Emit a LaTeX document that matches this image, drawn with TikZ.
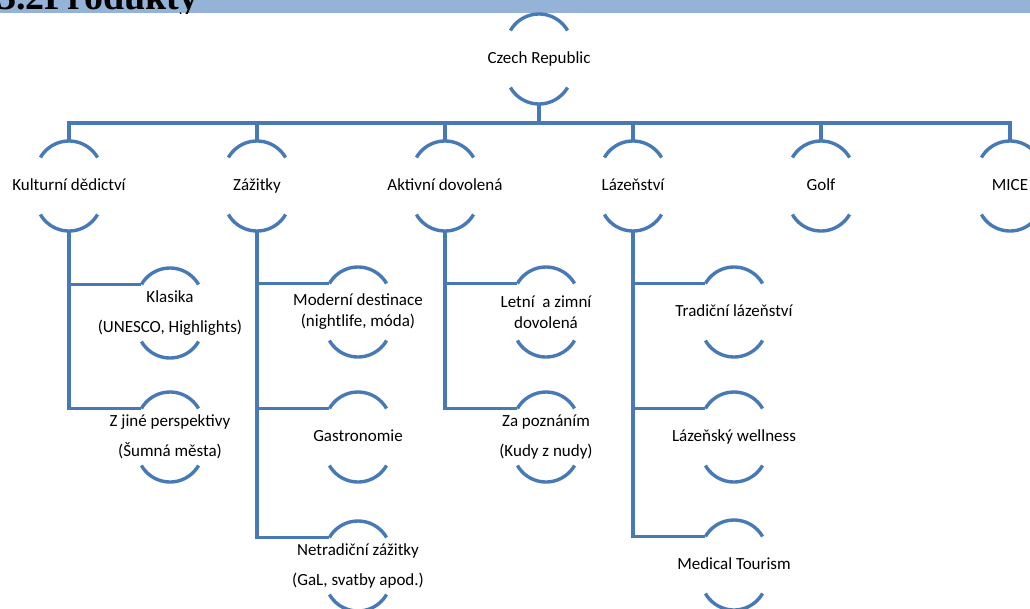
\documentclass[tikz,border=0pt]{standalone}
\usepackage{fontspec}
\setmainfont{Carlito}
\newfontfamily\headfont{Liberation Serif}
\definecolor{linkblue}{RGB}{70,121,182}
\definecolor{bandblue}{RGB}{149,179,215}

\begin{document}
\begin{tikzpicture}[x=1pt,y=1pt,
  box/.style={minimum width=57pt,minimum height=90pt,inner sep=0pt,align=center,
    font=\fontsize{17}{21}\selectfont},
  single/.style={text height=12pt,text depth=4pt},
  loose/.style={font=\fontsize{17}{30}\selectfont},
  arcline/.style={line width=3.4pt,draw=linkblue},
  link/.style={line width=3.4pt,draw=linkblue}]
  \useasboundingbox (0,0) rectangle (1030,-608);
  \clip (0,0) rectangle (1030,-608);

  % heading band
  \fill[bandblue] (0,0) rectangle (1030,-13);
  \begin{scope}
    \clip (0,0) rectangle (1030,-13);
    \node[anchor=base west,inner sep=0pt] (head) at (-3,-9.5)
      {\headfont\bfseries\fontsize{38}{40}\selectfont 3.2Produkty};
  \end{scope}

  % top
  \node[box,single] (cz) at (539,-59) {Czech Republic};
  \coordinate (bus) at (539,-123);

  % first level
  \node[box,single] (kult) at (69,-186) {Kulturní dědictví};
  \node[box,single] (zaz) at (257,-186) {Zážitky};
  \node[box,single] (akt) at (445,-186) {Aktivní dovolená};
  \node[box,single] (laz) at (633,-186) {Lázeňství};
  \node[box,single] (golf) at (821,-186) {Golf};
  \node[box,single] (mice) at (1010,-186) {MICE};

  % second level
  \node[box,loose] (klas) at (170,-313) {Klasika\\(UNESCO, Highlights)};
  \node[box,loose] (zjine) at (170,-437) {Z jiné perspektivy\\(Šumná města)};

  \node[box] (mod) at (358,-312) {Moderní destinace\\(nightlife, móda)};
  \node[box,single] (gast) at (358,-437) {Gastronomie};
  \node[box,loose] (netr) at (358,-566) {Netradiční zážitky\\(GaL, svatby apod.)};

  \node[box] (letni) at (546,-312) {Letní\ \ a zimní\\dovolená};
  \node[box,loose] (zapoz) at (546,-437) {Za poznáním\\(Kudy z nudy)};

  \node[box,single] (trad) at (734,-312) {Tradiční lázeňství};
  \node[box,single] (well) at (734,-437) {Lázeňský wellness};
  \node[box,single] (med) at (734,-565) {Medical Tourism};

  % arcs round every box
  \foreach \n in {cz,kult,zaz,akt,laz,golf,mice,klas,zjine,mod,gast,netr,letni,zapoz,trad,well,med} {
    \draw[arcline] ([shift={(-28.6,28.5)}]\n.center) arc[start angle=150,end angle=30,radius=33pt];
    \draw[arcline] ([shift={(-28.6,-28.5)}]\n.center) arc[start angle=210,end angle=330,radius=33pt];
  }

  % connectors
  \draw[link] (cz.south) -- (bus);
  \foreach \n in {kult,zaz,akt,laz,golf,mice}
    \draw[link] (bus) -| (\n.north);

  \draw[link] (kult.south) |- ([shift={(-28.6,28.5)}]klas.center);
  \draw[link] (kult.south) |- ([shift={(-28.6,28.5)}]zjine.center);
  \draw[link] (zaz.south) |- ([shift={(-28.6,28.5)}]mod.center);
  \draw[link] (zaz.south) |- ([shift={(-28.6,28.5)}]gast.center);
  \draw[link] (zaz.south) |- ([shift={(-28.6,28.5)}]netr.center);
  \draw[link] (akt.south) |- ([shift={(-28.6,28.5)}]letni.center);
  \draw[link] (akt.south) |- ([shift={(-28.6,28.5)}]zapoz.center);
  \draw[link] (laz.south) |- ([shift={(-28.6,28.5)}]trad.center);
  \draw[link] (laz.south) |- ([shift={(-28.6,28.5)}]well.center);
  \draw[link] (laz.south) |- ([shift={(-28.6,28.5)}]med.center);
\end{tikzpicture}
\end{document}
